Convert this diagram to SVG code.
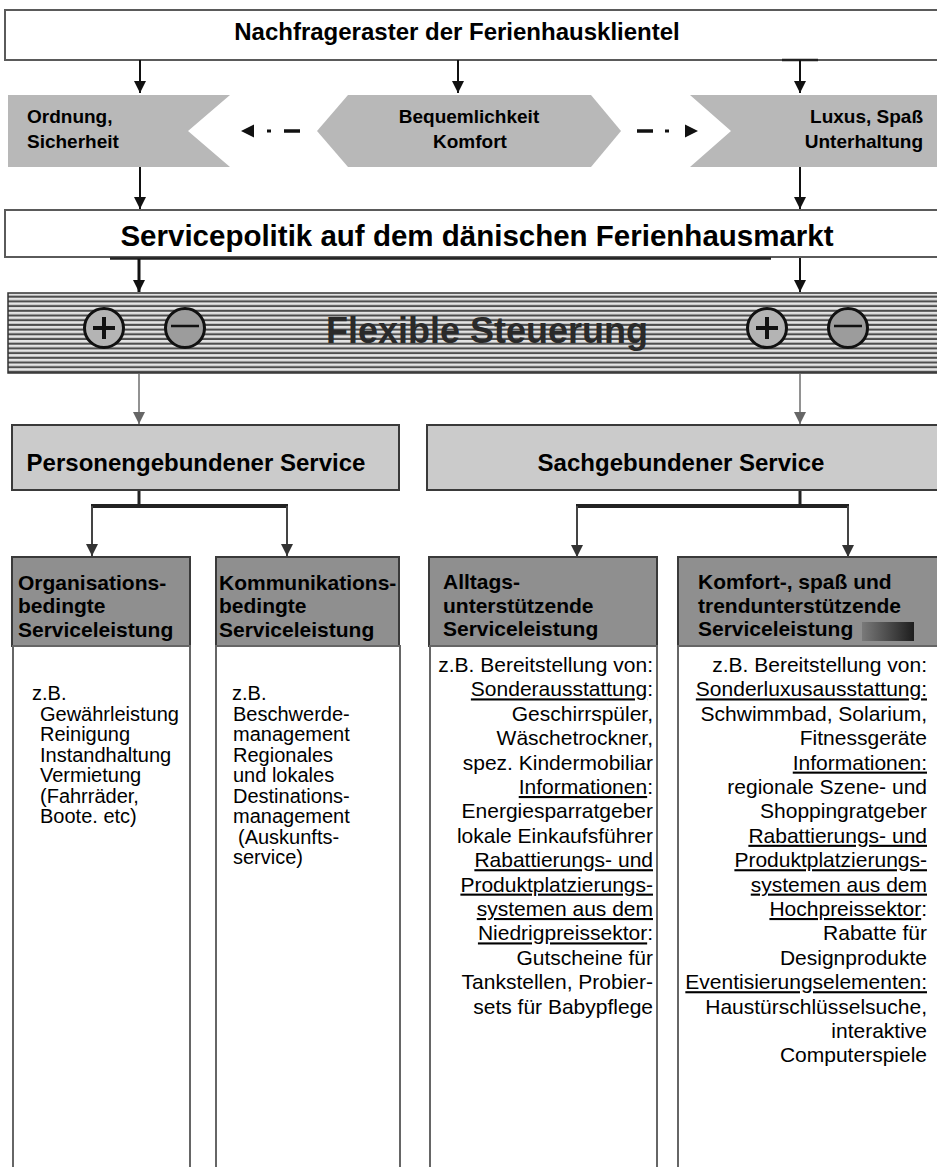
<svg xmlns="http://www.w3.org/2000/svg" width="937" height="1167" viewBox="0 0 937 1167">
<style>
.t{font-family:"Liberation Sans",Arial,sans-serif;fill:#000}
.b{font-weight:bold}
.hex{fill:#b8b8b8;stroke:none}
.wbox{fill:#fff;stroke:#5a5a5a;stroke-width:2}
.sbox{fill:#cbcbcb;stroke:#3a3a3a;stroke-width:2}
.hbox{fill:#8f8f8f;stroke:#3a3a3a;stroke-width:2}
.body{fill:#fff;stroke:#666;stroke-width:2}
.ln{stroke:#111;stroke-width:2;fill:none}
.lng{stroke:#777;stroke-width:1.6;fill:none}
.u{text-decoration:underline}
.f20{font-size:20px}
.f21{font-size:21px}
</style>
<defs>
<marker id="ah" markerUnits="userSpaceOnUse" markerWidth="12" markerHeight="14" refX="12" refY="6" orient="auto">
<path d="M0,0 L12,6 L0,12 z" fill="#111"/>
</marker>
<marker id="ahd" markerUnits="userSpaceOnUse" markerWidth="12" markerHeight="14" refX="12" refY="6" orient="auto">
<path d="M0,0 L12,6 L0,12 z" fill="#333"/>
</marker>
<marker id="ahg" markerUnits="userSpaceOnUse" markerWidth="12" markerHeight="14" refX="12" refY="6" orient="auto">
<path d="M0,0 L12,6 L0,12 z" fill="#666"/>
</marker>
<pattern id="stripes" patternUnits="userSpaceOnUse" x="0" y="293" width="20" height="4.7">
<rect width="20" height="4.7" fill="#e4e4e4"/>
<rect y="2.6" width="20" height="2.1" fill="#4e4e4e"/>
</pattern>
<linearGradient id="smudge" x1="0" y1="0" x2="1" y2="0">
<stop offset="0" stop-color="#777"/>
<stop offset="0.5" stop-color="#444"/>
<stop offset="1" stop-color="#111"/>
</linearGradient>
</defs>

<g id="top-box">
<rect x="5" y="10" width="940" height="50" class="wbox"/>
<text class="t b" x="457" y="40" font-size="24" text-anchor="middle">Nachfrageraster der Ferienhausklientel</text>
</g>

<g id="ordnung">
<polygon class="hex" points="8,95 230,95 188,131 230,167 8,167"/>
<text class="t b" x="27" y="123" font-size="19">Ordnung,</text>
<text class="t b" x="27" y="148" font-size="19">Sicherheit</text>
</g>

<g id="bequemlichkeit">
<polygon class="hex" points="317,131 348,95 591,95 621,131 591,167 348,167"/>
<text class="t b" x="469" y="123" font-size="19" text-anchor="middle">Bequemlichkeit</text>
<text class="t b" x="470" y="148" font-size="19" text-anchor="middle">Komfort</text>
</g>

<g id="luxus">
<polygon class="hex" points="690,95 940,95 940,167 690,167 731,131"/>
<text class="t b" x="923" y="123" font-size="19" text-anchor="end">Luxus, Spaß</text>
<text class="t b" x="923" y="148" font-size="19" text-anchor="end">Unterhaltung</text>
</g>

<g id="servicepolitik">
<rect x="5" y="210" width="940" height="47" class="wbox"/>
<line x1="110" y1="258.5" x2="771" y2="258.5" stroke="#222" stroke-width="2.5"/>
<text class="t b" x="477" y="246" font-size="29.5" text-anchor="middle">Servicepolitik auf dem dänischen Ferienhausmarkt</text>
</g>

<g id="flexible-steuerung">
<rect x="8" y="293" width="935" height="80" fill="url(#stripes)" stroke="#333" stroke-width="1.5"/>
<circle cx="104" cy="328" r="19.5" fill="#b4b4b4" stroke="#111" stroke-width="3"/>
<line x1="93" y1="328" x2="115" y2="328" stroke="#111" stroke-width="4"/>
<line x1="104" y1="317" x2="104" y2="339" stroke="#111" stroke-width="4"/>
<circle cx="185" cy="328" r="19.5" fill="#9c9c9c" stroke="#111" stroke-width="3"/>
<line x1="171" y1="326" x2="199" y2="326" stroke="#111" stroke-width="2.5"/>
<circle cx="767" cy="328" r="19.5" fill="#b4b4b4" stroke="#111" stroke-width="3"/>
<line x1="756" y1="328" x2="778" y2="328" stroke="#111" stroke-width="4"/>
<line x1="767" y1="317" x2="767" y2="339" stroke="#111" stroke-width="4"/>
<circle cx="848" cy="328" r="19.5" fill="#9c9c9c" stroke="#111" stroke-width="3"/>
<line x1="834" y1="326" x2="862" y2="326" stroke="#111" stroke-width="2.5"/>
<text class="t b" x="487" y="343" font-size="36" text-anchor="middle" fill="#2a2a2a" style="fill:#2a2a2a">Flexible Steuerung</text>
</g>

<g id="personengebunden">
<rect x="12" y="425" width="387" height="65" class="sbox"/>
<text class="t b" x="196" y="471" font-size="24" text-anchor="middle">Personengebundener Service</text>
</g>

<g id="sachgebunden">
<rect x="427" y="425" width="518" height="65" class="sbox"/>
<text class="t b" x="681" y="471" font-size="24" text-anchor="middle">Sachgebundener Service</text>
</g>

<g id="organisation">
<rect x="12" y="557" width="178" height="89" class="hbox"/>
<text class="t b f21" x="18" y="590">Organisations-</text>
<text class="t b f21" x="18" y="613">bedingte</text>
<text class="t b f21" x="18" y="637">Serviceleistung</text>
<rect x="13" y="646" width="177" height="530" class="body"/>
<g class="t f20">
<text x="32" y="700">z.B.</text>
<text x="40" y="720.5">Gewährleistung</text>
<text x="40" y="741">Reinigung</text>
<text x="40" y="761.5">Instandhaltung</text>
<text x="40" y="782">Vermietung</text>
<text x="40" y="802.5">(Fahrräder,</text>
<text x="40" y="823">Boote. etc)</text>
</g>
</g>

<g id="kommunikation">
<rect x="216" y="557" width="183" height="89" class="hbox"/>
<text class="t b f21" x="219" y="590">Kommunikations-</text>
<text class="t b f21" x="219" y="613">bedingte</text>
<text class="t b f21" x="219" y="637">Serviceleistung</text>
<rect x="216" y="646" width="184" height="530" class="body"/>
<g class="t f20">
<text x="232" y="700">z.B.</text>
<text x="233" y="720.5">Beschwerde-</text>
<text x="233" y="741">management</text>
<text x="233" y="761.5">Regionales</text>
<text x="233" y="782">und lokales</text>
<text x="233" y="802.5">Destinations-</text>
<text x="233" y="823">management</text>
<text x="238" y="843.5">(Auskunfts-</text>
<text x="233" y="864">service)</text>
</g>
</g>

<g id="alltag">
<rect x="429" y="557" width="228" height="89" class="hbox"/>
<text class="t b f21" x="443" y="589">Alltags-</text>
<text class="t b f21" x="443" y="612.5">unterstützende</text>
<text class="t b f21" x="443" y="636">Serviceleistung</text>
<rect x="430" y="646" width="227" height="530" class="body"/>
<g class="t f21" text-anchor="end">
<text x="653" y="672">z.B. Bereitstellung von:</text>
<text x="653" y="696.4"><tspan class="u">Sonderausstattung</tspan>:</text>
<text x="653" y="720.8">Geschirrspüler,</text>
<text x="653" y="745.2">Wäschetrockner,</text>
<text x="653" y="769.6">spez. Kindermobiliar</text>
<text x="653" y="794"><tspan class="u">Informationen</tspan>:</text>
<text x="653" y="818.4">Energiesparratgeber</text>
<text x="653" y="842.8">lokale Einkaufsführer</text>
<text x="653" y="867.2"><tspan class="u">Rabattierungs- und</tspan></text>
<text x="653" y="891.6"><tspan class="u">Produktplatzierungs-</tspan></text>
<text x="653" y="916"><tspan class="u">systemen aus dem</tspan></text>
<text x="653" y="940.4"><tspan class="u">Niedrigpreissektor</tspan>:</text>
<text x="653" y="964.8">Gutscheine für</text>
<text x="653" y="989.2">Tankstellen, Probier-</text>
<text x="653" y="1013.6">sets für Babypflege</text>
</g>
</g>

<g id="komfort">
<rect x="678" y="557" width="267" height="89" class="hbox"/>
<text class="t b f21" x="698" y="589">Komfort-, spaß und</text>
<text class="t b f21" x="698" y="612.5">trendunterstützende</text>
<text class="t b f21" x="698" y="636">Serviceleistung</text>
<rect x="862" y="622" width="52" height="19" fill="url(#smudge)" opacity="0.9"/>
<rect x="678" y="646" width="267" height="530" class="body"/>
<g class="t f21" text-anchor="end">
<text x="927" y="672">z.B. Bereitstellung von:</text>
<text x="927" y="696.4"><tspan class="u">Sonderluxusausstattung:</tspan></text>
<text x="927" y="720.8">Schwimmbad, Solarium,</text>
<text x="927" y="745.2">Fitnessgeräte</text>
<text x="927" y="769.6"><tspan class="u">Informationen:</tspan></text>
<text x="927" y="794">regionale Szene- und</text>
<text x="927" y="818.4">Shoppingratgeber</text>
<text x="927" y="842.8"><tspan class="u">Rabattierungs- und</tspan></text>
<text x="927" y="867.2"><tspan class="u">Produktplatzierungs-</tspan></text>
<text x="927" y="891.6"><tspan class="u">systemen aus dem</tspan></text>
<text x="927" y="916"><tspan class="u">Hochpreissektor</tspan>:</text>
<text x="927" y="940.4">Rabatte für</text>
<text x="927" y="964.8">Designprodukte</text>
<text x="927" y="989.2"><tspan class="u">Eventisierungselementen:</tspan></text>
<text x="927" y="1013.6">Haustürschlüsselsuche,</text>
<text x="927" y="1038">interaktive</text>
<text x="927" y="1062.4">Computerspiele</text>
</g>
</g>

<g id="connectors">
<line class="ln" x1="140" y1="60" x2="140" y2="93" marker-end="url(#ah)"/>
<line class="ln" x1="458" y1="60" x2="458" y2="93" marker-end="url(#ah)"/>
<line x1="782" y1="60" x2="818" y2="60" stroke="#222" stroke-width="2.5"/>
<line class="ln" x1="800" y1="60" x2="800" y2="93" marker-end="url(#ah)"/>
<polygon points="241,131 254,124.5 254,137.5" fill="#111"/>
<rect x="267" y="129.5" width="4" height="3" fill="#111"/>
<line x1="284" y1="131" x2="300" y2="131" stroke="#111" stroke-width="3.5"/>
<line x1="637" y1="131" x2="653" y2="131" stroke="#111" stroke-width="3.5"/>
<rect x="665" y="129.5" width="4" height="3" fill="#111"/>
<polygon points="698,131 685,124.5 685,137.5" fill="#111"/>
<line class="ln" x1="140" y1="167" x2="140" y2="209" marker-end="url(#ah)"/>
<line class="ln" x1="800" y1="167" x2="800" y2="209" marker-end="url(#ah)"/>
<line x1="139" y1="259" x2="139" y2="292" stroke="#111" stroke-width="3" marker-end="url(#ah)"/>
<line class="ln" x1="800" y1="258" x2="800" y2="292" marker-end="url(#ah)"/>
<line class="lng" x1="139" y1="374" x2="139" y2="424" marker-end="url(#ahg)"/>
<line class="lng" x1="800" y1="374" x2="800" y2="424" marker-end="url(#ahg)"/>
<line x1="139" y1="491" x2="139" y2="506" stroke="#222" stroke-width="3"/>
<line x1="91" y1="506" x2="288" y2="506" stroke="#222" stroke-width="4"/>
<line x1="92" y1="506" x2="92" y2="556" stroke="#444" stroke-width="2" marker-end="url(#ahd)"/>
<line x1="287" y1="506" x2="287" y2="556" stroke="#444" stroke-width="2" marker-end="url(#ahd)"/>
<line x1="800" y1="491" x2="800" y2="506" stroke="#222" stroke-width="3"/>
<line x1="576" y1="506" x2="849" y2="506" stroke="#222" stroke-width="4"/>
<line x1="577" y1="506" x2="577" y2="557" stroke="#444" stroke-width="2" marker-end="url(#ahd)"/>
<line x1="848" y1="506" x2="848" y2="557" stroke="#444" stroke-width="2" marker-end="url(#ahd)"/>
</g>
</svg>
